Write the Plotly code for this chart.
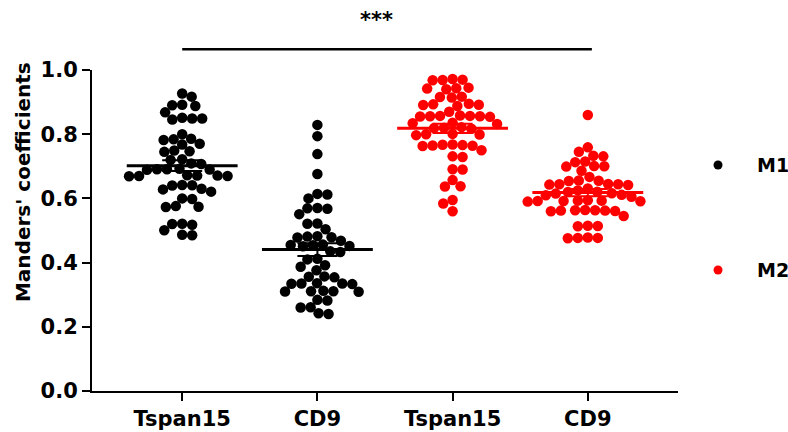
import math
import plotly.graph_objects as go

# ---------------- data ----------------
categories = ["Tspan15", "CD9", "Tspan15", "CD9"]
series_names = ["M1", "M2"]
series_colors = ["#000000", "#FF0000"]

m1_tspan15 = [0.927, 0.917, 0.892, 0.890, 0.888, 0.868, 0.851, 0.849, 0.849, 0.846,
              0.800, 0.786, 0.784, 0.782, 0.770, 0.768, 0.749, 0.747, 0.745, 0.722,
              0.720, 0.709, 0.707, 0.692, 0.691, 0.691, 0.690, 0.689, 0.672, 0.671,
              0.671, 0.670, 0.670, 0.669, 0.642, 0.641, 0.640, 0.630, 0.628, 0.621,
              0.600, 0.598, 0.576, 0.574, 0.573, 0.521, 0.520, 0.518, 0.501, 0.487,
              0.485]
m1_cd9 = [0.829, 0.794, 0.738, 0.676, 0.614, 0.612, 0.600, 0.570, 0.569, 0.568,
          0.551, 0.522, 0.521, 0.504, 0.482, 0.481, 0.479, 0.478, 0.468, 0.456,
          0.455, 0.454, 0.452, 0.451, 0.435, 0.433, 0.412, 0.410, 0.392, 0.387,
          0.376, 0.357, 0.356, 0.354, 0.336, 0.335, 0.335, 0.334, 0.333, 0.312,
          0.311, 0.311, 0.310, 0.309, 0.284, 0.282, 0.261, 0.260, 0.242, 0.240]
m2_tspan15 = [0.972, 0.970, 0.969, 0.968, 0.945, 0.943, 0.942, 0.940, 0.917, 0.916,
              0.914, 0.895, 0.893, 0.892, 0.891, 0.888, 0.870, 0.858, 0.857, 0.857,
              0.856, 0.856, 0.855, 0.854, 0.836, 0.834, 0.832, 0.822, 0.820, 0.819,
              0.817, 0.801, 0.800, 0.799, 0.797, 0.768, 0.767, 0.766, 0.765, 0.764,
              0.763, 0.750, 0.731, 0.729, 0.691, 0.690, 0.657, 0.638, 0.637, 0.595,
              0.584, 0.560]
m2_cd9 = [0.860, 0.759, 0.745, 0.733, 0.731, 0.715, 0.713, 0.701, 0.700, 0.699,
          0.686, 0.667, 0.656, 0.655, 0.654, 0.645, 0.644, 0.644, 0.643, 0.642,
          0.631, 0.625, 0.621, 0.620, 0.616, 0.615, 0.611, 0.610, 0.605, 0.594,
          0.593, 0.593, 0.592, 0.592, 0.591, 0.590, 0.564, 0.563, 0.563, 0.562,
          0.562, 0.561, 0.560, 0.545, 0.515, 0.514, 0.513, 0.478, 0.477, 0.477,
          0.476]

y_ticks = [0.0, 0.2, 0.4, 0.6, 0.8, 1.0]
y_title = "Manders' coefficients"
significance = "***"

groups = [m1_tspan15, m1_cd9, m2_tspan15, m2_cd9]
group_series = [0, 0, 1, 1]

# ---------------- layout constants ----------------
W, H = 788, 432
ML, MR, MT, MB = 92, 110, 70, 41
X_RANGE = [0.333, 4.667]
Y_RANGE = [0.0, 1.0]
PX_X = (W - ML - MR) / (X_RANGE[1] - X_RANGE[0])
PX_Y = (H - MT - MB) / (Y_RANGE[1] - Y_RANGE[0])
DOT = 10.5      # marker diameter (px)
SPACING = 10.0  # min center distance in swarm (px)
FONT = "DejaVu Sans"
FS = 21
LEG_FS = 19
LEG_SYMBOL_X = 1.0683
LEG_TEXT_X = 1.1314
LEG_Y = [0.704, 0.377]


def swarm_offsets(values):
    """Greedy beeswarm: returns x offsets (data units) so dots don't overlap."""
    order = sorted(range(len(values)), key=lambda i: -values[i])
    placed = []
    offs = [0.0] * len(values)
    for i in order:
        y = values[i] * PX_Y
        cands = [0.0]
        for xp, yp in placed:
            dy = abs(y - yp)
            if dy < SPACING:
                dx = math.sqrt(SPACING ** 2 - dy ** 2)
                cands += [xp + dx, xp - dx]
        cands.sort(key=lambda c: (round(abs(c), 6), -c if len(placed) % 2 else c))
        x = cands[0]
        for c in cands:
            if all((c - xp) ** 2 + (y - yp) ** 2 >= SPACING ** 2 - 1e-6 for xp, yp in placed):
                x = c
                break
        placed.append((x, y))
        offs[i] = x / PX_X
    return offs


fig = go.Figure()

# points
for s, (name, color) in enumerate(zip(series_names, series_colors)):
    xs, ys = [], []
    for g, vals in enumerate(groups):
        if group_series[g] != s:
            continue
        offs = swarm_offsets(vals)
        xs += [g + 1 + o for o in offs]
        ys += vals
    fig.add_trace(go.Scatter(
        x=xs, y=ys, mode="markers", name=name,
        marker=dict(color=color, size=DOT, line=dict(width=0)),
        cliponaxis=False, showlegend=False,
    ))

# mean lines and SEM
for g, vals in enumerate(groups):
    color = series_colors[group_series[g]]
    n = len(vals)
    mean = sum(vals) / n
    sd = math.sqrt(sum((v - mean) ** 2 for v in vals) / (n - 1))
    sem = sd / math.sqrt(n)
    fig.add_trace(go.Scatter(
        x=[g + 1 - 0.41, g + 1 + 0.41], y=[mean, mean], mode="lines",
        line=dict(color=color, width=3), showlegend=False, hoverinfo="skip",
    ))
    fig.add_trace(go.Scatter(
        x=[g + 1], y=[mean], mode="markers",
        marker=dict(color=color, size=1, opacity=0),
        error_y=dict(type="data", array=[sem], width=20, thickness=2, color=color),
        showlegend=False, hoverinfo="skip",
    ))

# legend (drawn manually for exact spacing)
for name, color, ly in zip(series_names, series_colors, LEG_Y):
    fig.add_shape(type="circle", xref="paper", yref="paper",
                  xsizemode="pixel", ysizemode="pixel",
                  xanchor=LEG_SYMBOL_X, yanchor=ly, x0=-4.5, x1=4.5, y0=-4.5, y1=4.5,
                  fillcolor=color, line=dict(width=0))
    fig.add_annotation(x=LEG_TEXT_X, y=ly, xref="paper", yref="paper", text=name,
                       xanchor="left", yanchor="middle", showarrow=False,
                       font=dict(size=LEG_FS, family=FONT, weight="bold", color="black"))

# significance bar
fig.add_shape(type="line", xref="x", yref="paper", x0=1, x1=4.03, y0=1.065, y1=1.065,
              line=dict(color="black", width=2.5))
fig.add_annotation(x=2.44, y=1.155, xref="x", yref="paper", text=significance,
                   xanchor="center", yanchor="middle", showarrow=False,
                   font=dict(size=FS, family=FONT, weight="bold", color="black"))

# y title
fig.add_annotation(x=-0.1177, y=0.651, xref="paper", yref="paper", text=y_title,
                   xanchor="center", yanchor="middle", textangle=-90, showarrow=False,
                   font=dict(size=20, family=FONT, weight="bold", color="black"))

fig.update_layout(
    width=W, height=H,
    margin=dict(l=ML, r=MR, t=MT, b=MB, pad=0, autoexpand=False),
    paper_bgcolor="white", plot_bgcolor="white",
    font=dict(family=FONT, size=FS, color="black", weight="bold"),
    showlegend=False,
    xaxis=dict(range=X_RANGE, tickmode="array", tickvals=[1, 2, 3, 4], ticktext=categories,
               showline=True, linecolor="black", linewidth=2, ticks="outside",
               ticklen=8, tickwidth=2, tickcolor="black", showgrid=False, zeroline=False),
    yaxis=dict(range=Y_RANGE, tickmode="array", tickvals=y_ticks,
               ticktext=[f"{v:.1f}" for v in y_ticks],
               showline=True, linecolor="black", linewidth=2, ticks="outside",
               ticklen=8, tickwidth=2, tickcolor="black", showgrid=False, zeroline=False),
)

fig.write_html(
    "out.html",
    config={"displayModeBar": False},
    post_script="document.body.style.margin='0px';document.body.style.overflow='hidden';",
)
